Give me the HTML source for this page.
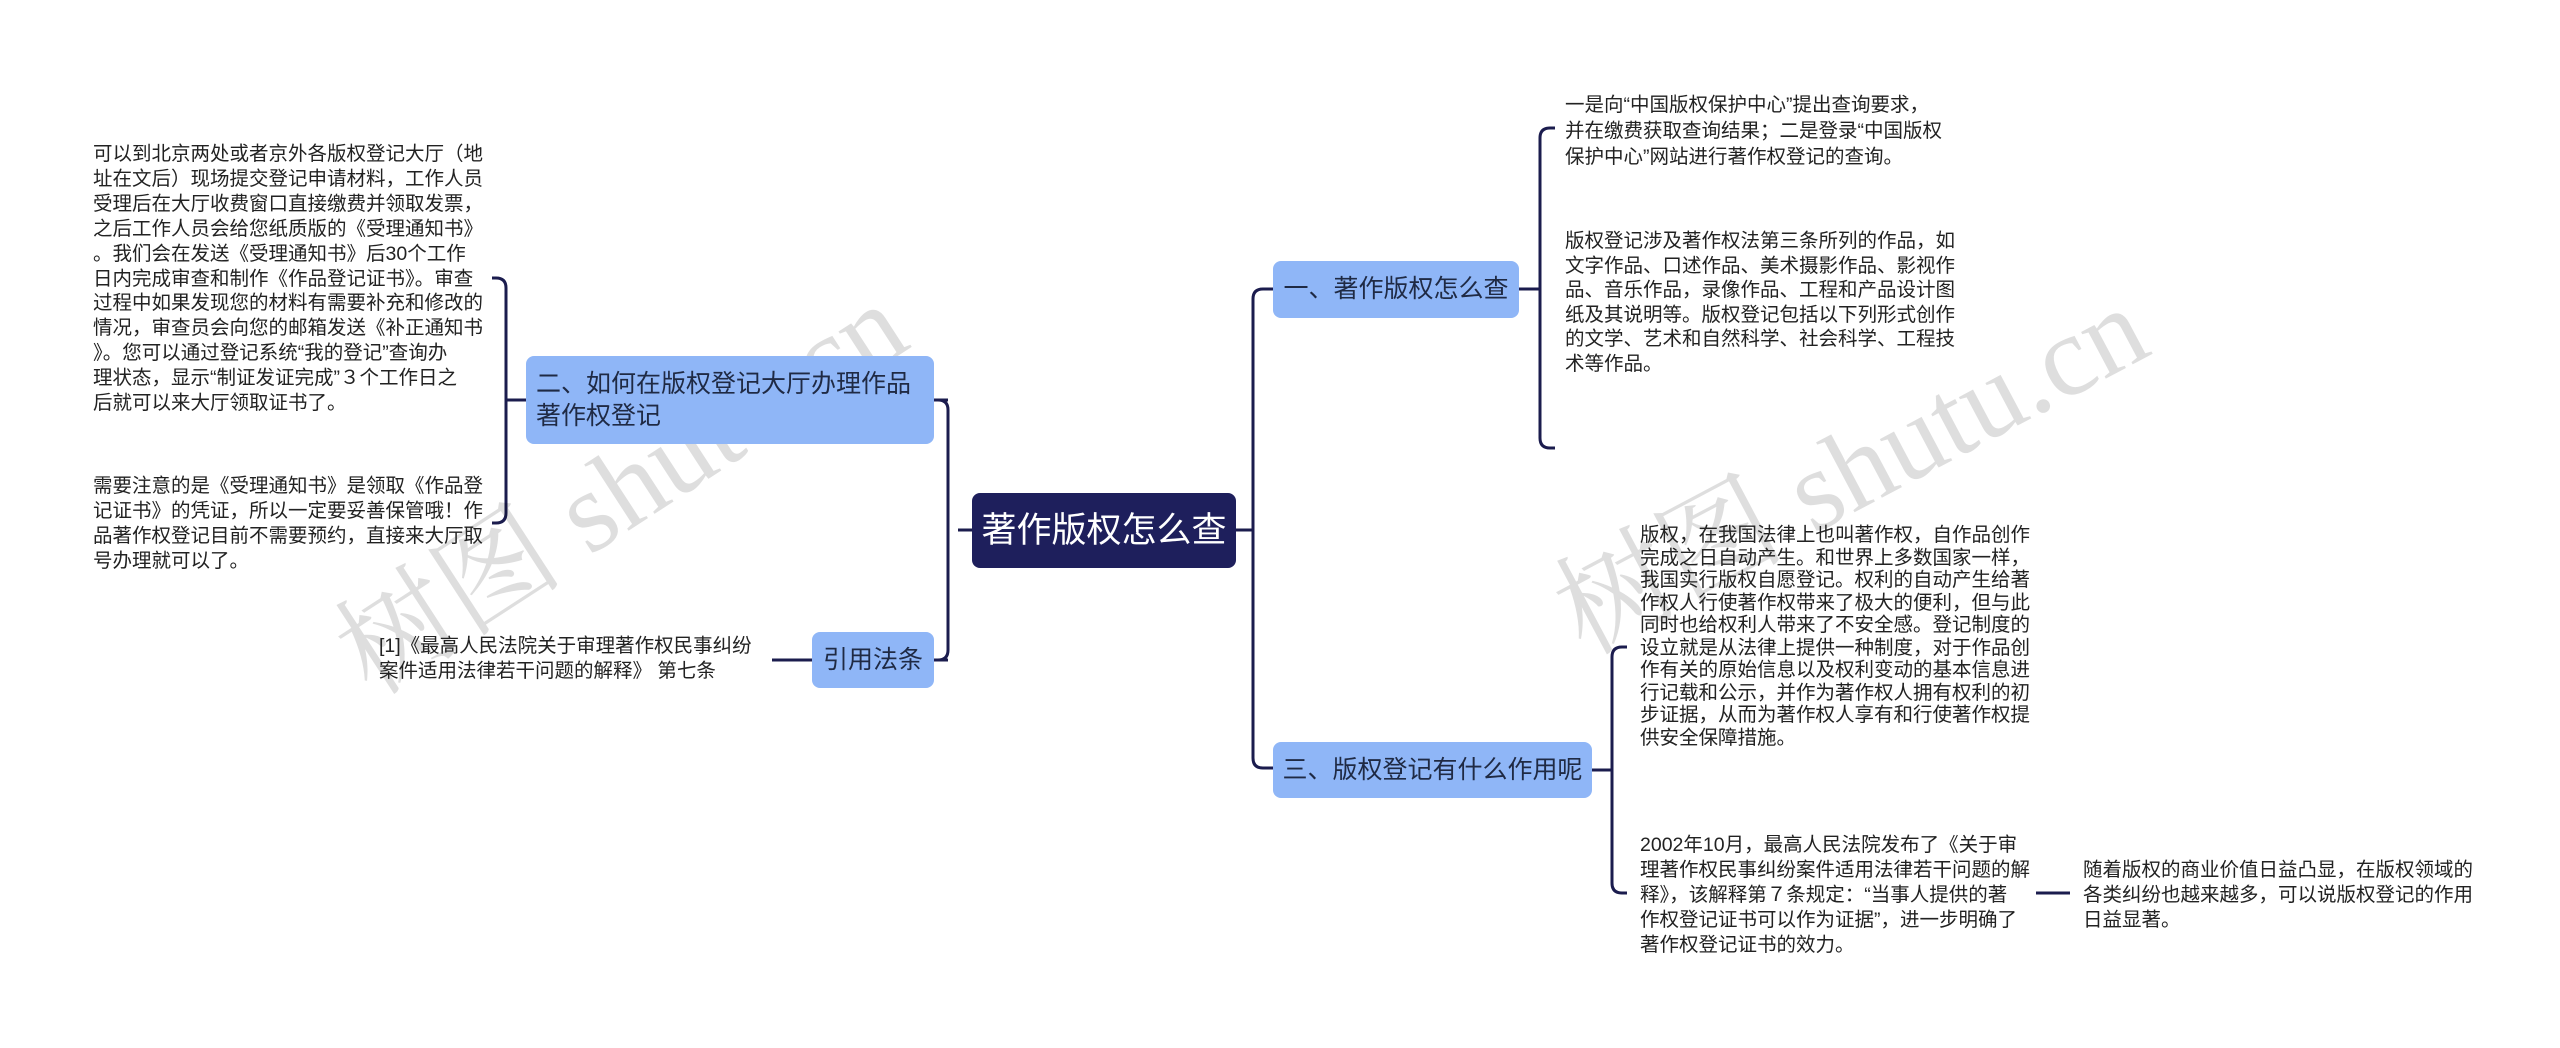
<!DOCTYPE html>
<html><head><meta charset="utf-8"><style>
body{margin:0;width:2560px;height:1048px;background:#fff;position:relative;overflow:hidden;font-family:"Liberation Sans","Noto Sans CJK SC",sans-serif;}
.t{position:absolute;font-size:19.5px;color:#222;white-space:nowrap;}
.b{position:absolute;background:#8fb6f7;border-radius:8px;color:#1f2a44;font-size:25px;box-sizing:border-box;}
.wm{position:absolute;font-family:"Liberation Serif","Noto Serif CJK SC",serif;font-size:115px;color:rgba(0,0,0,0.13);white-space:nowrap;transform-origin:left bottom;}
</style></head><body>
<svg width="2560" height="1048" style="position:absolute;left:0;top:0" fill="none" stroke="#1b1c4e" stroke-width="3">
<path d="M972 530 H958 M948 410 Q948 400 938 400 H934 M948 410 V650 Q948 660 938 660 H934"/>
<path d="M1236 530 H1253 M1253 299 V758 M1253 299 Q1253 289 1263 289 H1274 M1253 758 Q1253 768 1263 768 H1274"/>
<path d="M934 400 H948 M934 660 H948"/>
<path d="M1519 289 H1540 M1540 138 V438 M1540 138 Q1540 128 1550 128 H1555 M1540 438 Q1540 448 1550 448 H1555"/>
<path d="M526 400 H506 M506 288 V513 M506 288 Q506 278 496 278 H492 M506 513 Q506 523 496 523 H492"/>
<path d="M812 660 H772"/>
<path d="M1592 770 H1612 M1612 657 V883 M1612 657 Q1612 647 1622 647 H1627 M1612 883 Q1612 893 1622 893 H1627"/>
<path d="M2036 893 H2070"/>
</svg>
<div class="wm" style="left:390px;top:560px;transform:rotate(-33deg);">树图 shutu.cn</div>
<div class="wm" style="left:1600px;top:520px;transform:rotate(-28deg);">树图 shutu.cn</div>

<div style="position:absolute;left:972px;top:493px;width:264px;height:75px;background:#1e1f5c;border-radius:8px;color:#fff;font-size:35px;line-height:75px;text-align:center;">著作版权怎么查</div>
<div class="b" style="left:1273px;top:261px;width:246px;height:57px;line-height:57px;text-align:center;">一、著作版权怎么查</div>
<div class="b" style="left:526px;top:356px;width:408px;height:88px;padding:12px 10px;line-height:32px;">二、如何在版权登记大厅办理作品<br>著作权登记</div>
<div class="b" style="left:812px;top:632px;width:122px;height:56px;line-height:56px;text-align:center;">引用法条</div>
<div class="b" style="left:1273px;top:742px;width:319px;height:56px;line-height:56px;text-align:center;">三、版权登记有什么作用呢</div>

<div class="t" style="left:1565px;top:92px;line-height:26px;">一是向“中国版权保护中心”提出查询要求，<br>并在缴费获取查询结果；二是登录“中国版权<br>保护中心”网站进行著作权登记的查询。</div>
<div class="t" style="left:1565px;top:229px;line-height:24.6px;">版权登记涉及著作权法第三条所列的作品，如<br>文字作品、口述作品、美术摄影作品、影视作<br>品、音乐作品，录像作品、工程和产品设计图<br>纸及其说明等。版权登记包括以下列形式创作<br>的文学、艺术和自然科学、社会科学、工程技<br>术等作品。</div>

<div class="t" style="left:93px;top:142px;line-height:24.9px;">可以到北京两处或者京外各版权登记大厅（地<br>址在文后）现场提交登记申请材料，工作人员<br>受理后在大厅收费窗口直接缴费并领取发票，<br>之后工作人员会给您纸质版的《受理通知书》<br>。我们会在发送《受理通知书》后30个工作<br>日内完成审查和制作《作品登记证书》。审查<br>过程中如果发现您的材料有需要补充和修改的<br>情况，审查员会向您的邮箱发送《补正通知书<br>》。您可以通过登记系统“我的登记”查询办<br>理状态，显示“制证发证完成”３个工作日之<br>后就可以来大厅领取证书了。</div>
<div class="t" style="left:93px;top:474px;line-height:24.9px;">需要注意的是《受理通知书》是领取《作品登<br>记证书》的凭证，所以一定要妥善保管哦！作<br>品著作权登记目前不需要预约，直接来大厅取<br>号办理就可以了。</div>
<div class="t" style="left:379px;top:634px;line-height:25px;">[1]《最高人民法院关于审理著作权民事纠纷<br>案件适用法律若干问题的解释》 第七条</div>

<div class="t" style="left:1640px;top:524px;line-height:22.5px;">版权，在我国法律上也叫著作权，自作品创作<br>完成之日自动产生。和世界上多数国家一样，<br>我国实行版权自愿登记。权利的自动产生给著<br>作权人行使著作权带来了极大的便利，但与此<br>同时也给权利人带来了不安全感。登记制度的<br>设立就是从法律上提供一种制度，对于作品创<br>作有关的原始信息以及权利变动的基本信息进<br>行记载和公示，并作为著作权人拥有权利的初<br>步证据，从而为著作权人享有和行使著作权提<br>供安全保障措施。</div>
<div class="t" style="left:1640px;top:833px;line-height:25px;">2002年10月，最高人民法院发布了《关于审<br>理著作权民事纠纷案件适用法律若干问题的解<br>释》，该解释第７条规定：“当事人提供的著<br>作权登记证书可以作为证据”，进一步明确了<br>著作权登记证书的效力。</div>
<div class="t" style="left:2083px;top:858px;line-height:25px;">随着版权的商业价值日益凸显，在版权领域的<br>各类纠纷也越来越多，可以说版权登记的作用<br>日益显著。</div>
</body></html>
